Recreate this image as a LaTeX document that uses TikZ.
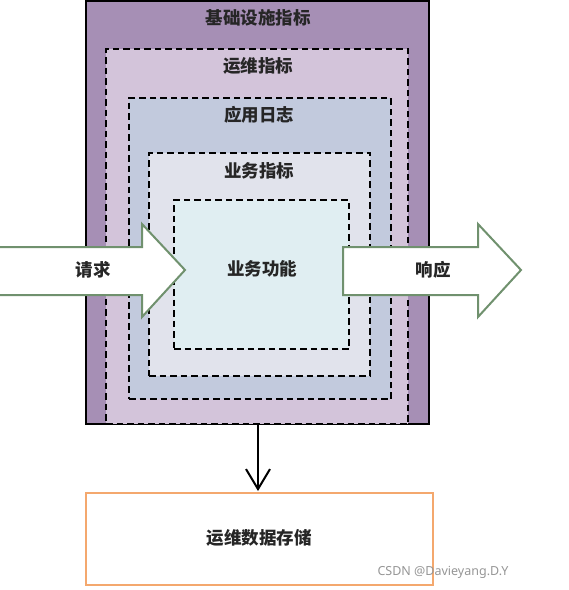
\documentclass[tikz,border=0pt]{standalone}
\usepackage{fontspec}
\newfontfamily\cjk{Noto Sans CJK SC}
\newfontfamily\wm{Noto Sans}
\usetikzlibrary{arrows.meta}
\definecolor{c1}{RGB}{166,143,181}
\definecolor{c2}{RGB}{211,196,218}
\definecolor{c3}{RGB}{194,202,221}
\definecolor{c4}{RGB}{225,227,236}
\definecolor{c5}{RGB}{224,238,242}
\definecolor{arrgreen}{RGB}{112,145,110}
\definecolor{storeorange}{RGB}{244,168,110}
\definecolor{wmgray}{RGB}{150,150,150}
\tikzset{
  layer/.style={rectangle, inner sep=0pt, outer sep=0pt, draw=black, line width=2pt, dash pattern=on 6.5pt off 4pt},
  lbl/.style={inner sep=0pt, font=\cjk\bfseries\fontsize{17.5}{20}\selectfont, text=black!85},
  bigarrow/.style={draw=arrgreen, fill=white, line width=2pt, line join=miter},
}
\begin{document}
\begin{tikzpicture}[x=1pt,y=-1pt]
\useasboundingbox (0,0) rectangle (569,590);
% outer infrastructure box
\node[rectangle, inner sep=0pt, outer sep=0pt, draw=black, line width=2pt, fill=c1,
  minimum width=343pt, minimum height=423pt] (infra) at (257.5,212.5) {};
\node[layer, fill=c2, minimum width=302pt, minimum height=375pt] (ops) at (257,236.5) {};
\node[layer, fill=c3, minimum width=262pt, minimum height=301pt] (applog) at (260,248.5) {};
\node[layer, fill=c4, minimum width=221pt, minimum height=223pt] (bizm) at (259.5,264.5) {};
\node[layer, fill=c5, minimum width=175pt, minimum height=149pt] (bizf) at (261.5,274.5) {};
% labels
\node[lbl] (tinfra) at (258,18) {基础设施指标};
\node[lbl] (tops) at (258,66) {运维指标};
\node[lbl] (tapp) at (259,115) {应用日志};
\node[lbl] (tbizm) at (259,171) {业务指标};
\node[lbl] (tbizf) at (262,269) {业务功能};
% request arrow
\draw[bigarrow] (-2,247) -- (142,247) -- (142,224) -- (185,270) -- (142,317) -- (142,295) -- (-2,295) -- cycle;
\node[lbl] (treq) at (93,270) {请求};
% response arrow
\draw[bigarrow] (343,247) -- (478,247) -- (478,224) -- (521,270) -- (478,317) -- (478,295) -- (343,295) -- cycle;
\node[lbl] (tresp) at (433,270) {响应};
% storage box
\node[rectangle, inner sep=0pt, outer sep=0pt, draw=storeorange, line width=2pt, fill=white,
  minimum width=347pt, minimum height=92pt] (store) at (259.5,539) {};
\node[lbl] (tstore) at (259,538) {运维数据存储};
% connector
\coordinate (src) at (258,424);
\coordinate (dst) at (258,491);
\draw[line width=2pt, -{Straight Barb[length=20pt,width=24pt,line width=2pt]}] (src) -- (dst);
% watermark
\node[inner sep=0pt, font=\wm\fontsize{12.5}{14}\selectfont, text=wmgray] (wmark) at (443,572) {CSDN @Davieyang.D.Y};
\end{tikzpicture}
\end{document}
